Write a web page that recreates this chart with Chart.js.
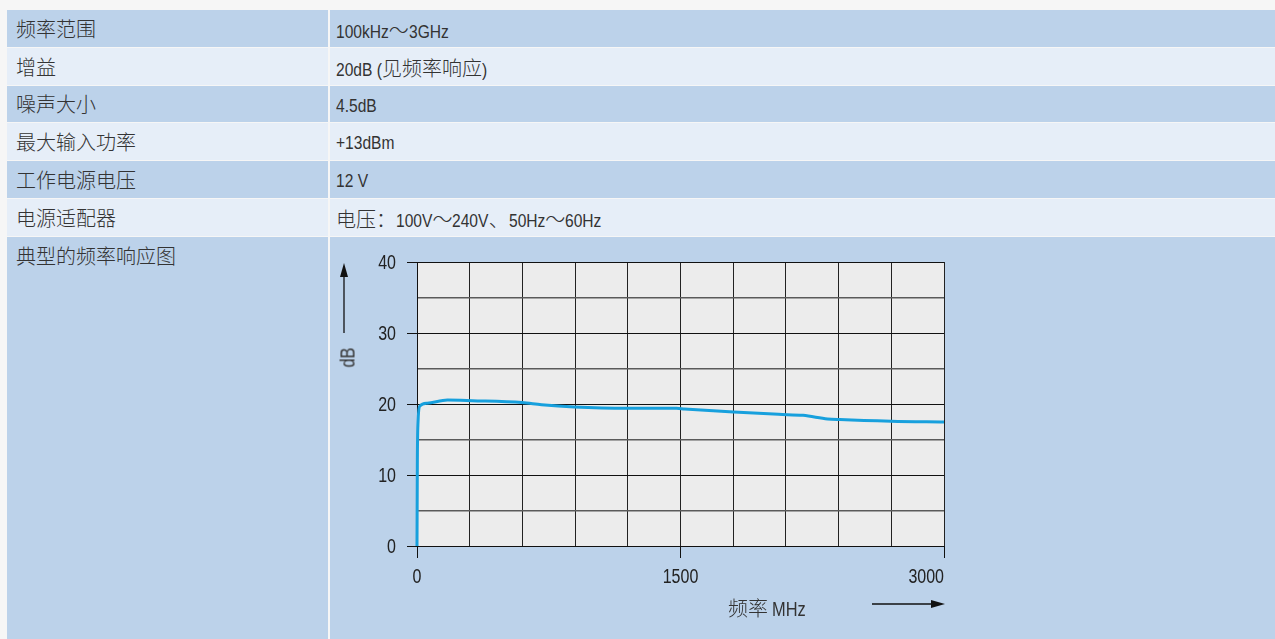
<!DOCTYPE html>
<html>
<head>
<meta charset="utf-8">
<script src="https://cdn.jsdelivr.net/npm/chart.js@4"></script>
<style>
  body { margin: 0; background: #f6f6f6; width: 1275px; height: 639px; overflow: hidden; position: relative;
         font-family: "Liberation Sans", "Noto Sans CJK SC", sans-serif; color: #333; }
  .cell { position: absolute; box-sizing: border-box; white-space: nowrap; }
  .dark { background: #bcd2ea; }
  .light { background: #e6eef8; }
  .lbl { left: 7px; width: 321px; padding-left: 9px; font-family: "Noto Sans CJK SC", sans-serif; font-weight: 300; font-size: 20px; }
  .val { left: 330px; width: 945px; padding-left: 6px; font-size: 19px; }
  .cjk { font-family: "Noto Sans CJK SC", sans-serif; font-weight: 300; font-size: 20px; text-spacing-trim: space-all; }
  .lat { display: inline-block; transform-origin: 0 50%; }
  #chartBox { position: absolute; left: 330px; top: 237px; width: 945px; height: 402px; }
  .axisTitle { position: absolute; font-size: 20px; color: #333; white-space: nowrap; }
</style>
</head>
<body>
<div id="table"></div>
<div id="chartBox"><canvas id="respChart"></canvas></div>
<div class="axisTitle" style="left:333px; top:346px; width:30px; text-align:center; transform: rotate(-90deg);"><span class="lat">dB</span></div>
<div class="axisTitle" style="left:728px; top:593px;"><span class="cjk">频率 </span><span class="lat">MHz</span></div>
<svg style="position:absolute; left:0; top:0;" width="1275" height="639">
  <line x1="344" y1="333" x2="344" y2="275" stroke="#111" stroke-width="1.3"/>
  <polygon points="344,263 340,277 348,277" fill="#111"/>
  <line x1="872" y1="604" x2="932" y2="604" stroke="#111" stroke-width="1.3"/>
  <polygon points="945,604 931,600 931,608" fill="#111"/>
</svg>
<script>
// spec table
const specNames = ['频率范围', '增益', '噪声大小', '最大输入功率', '工作电源电压', '电源适配器', '典型的频率响应图'];
const specValues = ['100kHz～3GHz', '20dB (见频率响应)', '4.5dB', '+13dBm', '12 V', '电压：100V～240V、50Hz～60Hz', ''];
const rowTops = [10, 48, 86, 123, 161, 199, 237, 639];

// frequency response curve
const freqMHz = [0, 2, 6, 16, 58, 174, 314, 598, 709, 895, 1198, 1477, 1523, 1802, 2058, 2198, 2337, 2407, 2700, 3000];
const gainDb = [0, 12, 17.5, 19.7, 20.1, 20.56, 20.47, 20.2, 19.9, 19.58, 19.39, 19.39, 19.3, 18.87, 18.54, 18.4, 17.9, 17.8, 17.56, 17.46];
const xTickLabels = [0, 1500, 3000];
const yTickLabels = [0, 10, 20, 30, 40];

const NARROW = 0.82; // condensed look, no narrow font installed

const table = document.getElementById('table');
specNames.forEach((name, i) => {
  const shade = i % 2 === 0 ? 'dark' : 'light';
  const last = i === specNames.length - 1;
  const h = rowTops[i + 1] - rowTops[i] - (last ? 0 : 1);
  const lineH = last ? 37 : h;
  const a = document.createElement('div');
  a.className = 'cell lbl ' + shade;
  a.style.top = rowTops[i] + 'px';
  a.style.height = h + 'px';
  a.style.lineHeight = lineH + 'px';
  a.textContent = name;
  table.appendChild(a);
  const b = document.createElement('div');
  b.className = 'cell val ' + shade;
  b.style.top = rowTops[i] + 'px';
  b.style.height = h + 'px';
  b.style.lineHeight = (lineH + 3) + 'px';
  b.innerHTML = specValues[i]
    .replace(/([\u3000-\u9fff\uff00-\uffef]+)/g, '<span class="cjk">$1</span>')
    .replace(/(^|<\/span>)([^<]+)/g, '$1<span class="lat">$2</span>');
  table.appendChild(b);
});

// squeeze latin runs horizontally
document.querySelectorAll('.lat').forEach(el => {
  const w = el.getBoundingClientRect().width;
  el.style.transform = 'scaleX(' + NARROW + ')';
  el.style.marginRight = (-(1 - NARROW) * w) + 'px';
});

const plotBg = {
  id: 'plotBg',
  beforeDraw(chart) {
    const { ctx, chartArea } = chart;
    ctx.save();
    ctx.fillStyle = '#ececec';
    ctx.fillRect(chartArea.left, chartArea.top, chartArea.right - chartArea.left, chartArea.bottom - chartArea.top);
    ctx.restore();
  }
};

// tick labels in a condensed face, placed by the chart's own scales
const narrowTicks = {
  id: 'narrowTicks',
  afterDraw(chart) {
    const { ctx, chartArea, scales } = chart;
    ctx.save();
    ctx.font = '20px "Liberation Sans", sans-serif';
    ctx.fillStyle = '#222';
    ctx.textBaseline = 'middle';
    yTickLabels.forEach(v => {
      ctx.save();
      ctx.translate(chartArea.left - 21, scales.y.getPixelForValue(v));
      ctx.scale(0.8, 1);
      ctx.textAlign = 'right';
      ctx.fillText(String(v), 0, 1);
      ctx.restore();
    });
    xTickLabels.forEach((v, i) => {
      ctx.save();
      ctx.translate(scales.x.getPixelForValue(v), chartArea.bottom + 31);
      ctx.scale(0.8, 1);
      ctx.textAlign = i === xTickLabels.length - 1 ? 'right' : 'center';
      ctx.fillText(String(v), 0, 0);
      ctx.restore();
    });
    ctx.restore();
  }
};

new Chart(document.getElementById('respChart'), {
  type: 'line',
  data: {
    datasets: [{
      data: freqMHz.map((f, i) => ({ x: f, y: gainDb[i] })),
      borderColor: '#17a0dd',
      borderWidth: 3,
      pointRadius: 0,
      cubicInterpolationMode: 'monotone',
      clip: false
    }]
  },
  plugins: [plotBg, narrowTicks],
  options: {
    responsive: true,
    maintainAspectRatio: false,
    animation: false,
    layout: { padding: { left: 0, right: 331, top: 25, bottom: 0 } },
    plugins: { legend: { display: false }, tooltip: { enabled: false } },
    scales: {
      x: {
        type: 'linear',
        min: 0,
        max: 3000,
        afterFit(scale) { scale.height = 93; },
        border: { color: '#111', width: 1 },
        grid: {
          color: '#222',
          lineWidth: 1,
          tickLength: 12,
          tickColor: ctx => xTickLabels.includes(ctx.tick && ctx.tick.value) ? '#111' : 'rgba(0,0,0,0)'
        },
        ticks: { stepSize: 300, autoSkip: false, maxRotation: 0, display: false }
      },
      y: {
        min: 0,
        max: 40,
        afterFit(scale) { scale.width = 87; },
        border: { color: '#111', width: 1 },
        grid: {
          color: ctx => (ctx.tick && ctx.tick.value % 10 === 0) ? '#111' : '#5a5a5a',
          lineWidth: ctx => (ctx.tick && ctx.tick.value % 10 === 0) ? 1 : 1.5,
          tickLength: 10,
          tickColor: ctx => yTickLabels.includes(ctx.tick && ctx.tick.value) ? '#111' : 'rgba(0,0,0,0)'
        },
        ticks: { stepSize: 5, display: false }
      }
    }
  }
});
</script>
</body>
</html>
